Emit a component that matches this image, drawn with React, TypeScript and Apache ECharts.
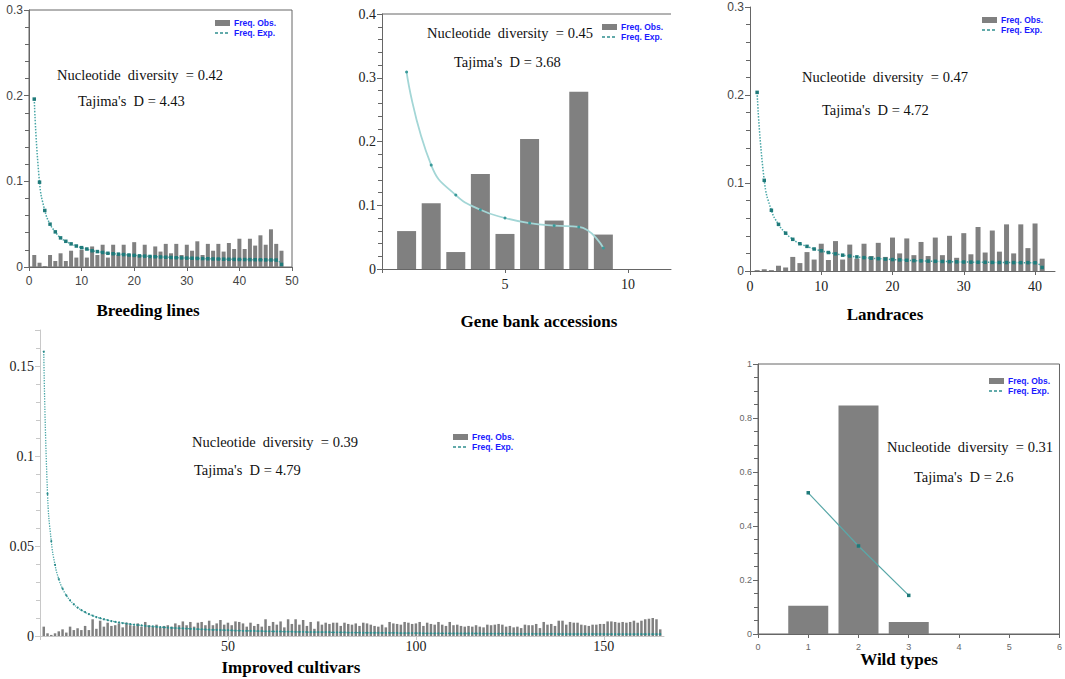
import React, { useEffect, useRef } from "react";
import * as echarts from "echarts";

// ---------- data ----------
const breedingObs = [0.014, 0.005, 0.001, 0.014, 0.007, 0.016, 0.007, 0.019, 0.011, 0.020, 0.011, 0.024, 0.014, 0.026, 0.011, 0.026, 0.014, 0.026, 0.015, 0.029, 0.014, 0.026, 0.011, 0.024, 0.018, 0.027, 0.016, 0.027, 0.014, 0.026, 0.019, 0.030, 0.014, 0.027, 0.019, 0.027, 0.018, 0.028, 0.021, 0.033, 0.021, 0.033, 0.025, 0.037, 0.026, 0.044, 0.027, 0.019];
const breedingExp = [0.196, 0.099, 0.066, 0.050, 0.041, 0.034, 0.030, 0.027, 0.0245, 0.0226, 0.021, 0.019, 0.018, 0.017, 0.016, 0.0155, 0.015, 0.0145, 0.014, 0.0136, 0.013, 0.0127, 0.0123, 0.012, 0.0117, 0.0114, 0.0111, 0.0108, 0.0106, 0.0104, 0.0102, 0.010, 0.0098, 0.0096, 0.0094, 0.0093, 0.0091, 0.009, 0.0089, 0.0088, 0.0087, 0.0086, 0.0085, 0.0084, 0.0083, 0.0082, 0.0081, 0.003];

const geneObs = [0.0595, 0.103, 0.0266, 0.149, 0.055, 0.204, 0.076, 0.278, 0.054];
const geneExp = [0.309, 0.163, 0.116, 0.093, 0.080, 0.072, 0.068, 0.066, 0.033];

const landObs = [0.001, 0.002, 0.001, 0.006, 0.004, 0.016, 0.009, 0.0215, 0.013, 0.031, 0.0125, 0.034, 0.013, 0.030, 0.014, 0.031, 0.017, 0.032, 0.016, 0.038, 0.020, 0.037, 0.018, 0.033, 0.017, 0.038, 0.018, 0.040, 0.015, 0.043, 0.019, 0.050, 0.021, 0.046, 0.022, 0.053, 0.020, 0.053, 0.026, 0.054, 0.014];
const landExp = [0.203, 0.103, 0.069, 0.053, 0.043, 0.036, 0.031, 0.028, 0.025, 0.023, 0.021, 0.0195, 0.018, 0.017, 0.016, 0.0152, 0.0145, 0.014, 0.0135, 0.013, 0.0126, 0.0122, 0.0118, 0.0115, 0.0112, 0.011, 0.0108, 0.0106, 0.0104, 0.0102, 0.0101, 0.010, 0.0099, 0.0098, 0.0097, 0.0096, 0.0096, 0.0095, 0.0095, 0.0094, 0.004];

const improvedObs = [
  0.0052, 0.0015, 0.0006, 0.0015, 0.0026, 0.0037, 0.0019, 0.0052, 0.0033, 0.0043,
  0.0033, 0.0056, 0.0033, 0.0093, 0.004, 0.0085, 0.0052, 0.0074, 0.0056, 0.006,
  0.007, 0.0048, 0.0074, 0.006, 0.0056, 0.007, 0.0052, 0.0078, 0.006, 0.0052,
  0.0063, 0.0048, 0.0056, 0.006, 0.0052, 0.007, 0.006, 0.0081, 0.006, 0.0078,
  0.0052, 0.0074, 0.0078, 0.006, 0.0085, 0.006, 0.007, 0.0089, 0.0063, 0.0074,
  0.006, 0.0081, 0.0078, 0.007, 0.0052, 0.0074, 0.0056, 0.0067, 0.0052, 0.0093,
  0.0056, 0.0078, 0.0063, 0.0081, 0.0048, 0.0093, 0.0067, 0.0093, 0.0063, 0.0089,
  0.0056, 0.0078, 0.004, 0.0081, 0.0063, 0.0074, 0.0067, 0.0074, 0.0074, 0.0056,
  0.0074, 0.0067, 0.0063, 0.007, 0.0056, 0.0074, 0.007, 0.0063, 0.0056, 0.0052,
  0.0063, 0.0048, 0.0078, 0.007, 0.0067, 0.0063, 0.0078, 0.0074, 0.0067, 0.007,
  0.0078, 0.0056, 0.0074, 0.0067, 0.0063, 0.0078, 0.0063, 0.0056, 0.0078, 0.006,
  0.0063, 0.0056, 0.0052, 0.0056, 0.0052, 0.006, 0.0052, 0.0048, 0.0063, 0.006,
  0.0063, 0.0067, 0.0063, 0.0052, 0.0056, 0.0048, 0.0052, 0.0044, 0.0063, 0.006,
  0.006, 0.0067, 0.0044, 0.0078, 0.0063, 0.0067, 0.0056, 0.0085, 0.0085, 0.0063,
  0.0078, 0.0074, 0.0074, 0.0063, 0.006, 0.0056, 0.0063, 0.0063, 0.0067, 0.0067,
  0.0081, 0.0081, 0.0078, 0.0074, 0.0078, 0.0074, 0.0078, 0.0085, 0.0074, 0.0085,
  0.0093, 0.0096, 0.010, 0.0093, 0.0037,
];
const improvedExp = [
  0.158, 0.079, 0.0527, 0.0395, 0.0316, 0.0263, 0.0226, 0.0198, 0.0176, 0.0158,
  0.0144, 0.0132, 0.0122, 0.0113, 0.0105, 0.0099, 0.0093, 0.0088, 0.0083, 0.0079,
  0.0075, 0.0072, 0.0069, 0.0066, 0.0063, 0.0061, 0.0059, 0.0056, 0.0054, 0.0053,
  0.0051, 0.0049, 0.0048, 0.0046, 0.0045, 0.0044, 0.0043, 0.0042, 0.0041, 0.004,
  0.0039, 0.0038, 0.0037, 0.0036, 0.0035, 0.0034, 0.0034, 0.0033, 0.0032, 0.0032,
  0.0031, 0.003, 0.003, 0.0029, 0.0029, 0.0028, 0.0028, 0.0027, 0.0027, 0.0026,
  0.0026, 0.0025, 0.0025, 0.0025, 0.0024, 0.0024, 0.0024, 0.0023, 0.0023, 0.0023,
  0.0022, 0.0022, 0.0022, 0.0021, 0.0021, 0.0021, 0.0021, 0.002, 0.002, 0.002,
  0.002, 0.0019, 0.0019, 0.0019, 0.0019, 0.0018, 0.0018, 0.0018, 0.0018, 0.0018,
  0.0017, 0.0017, 0.0017, 0.0017, 0.0017, 0.0016, 0.0016, 0.0016, 0.0016, 0.0016,
  0.0016, 0.0015, 0.0015, 0.0015, 0.0015, 0.0015, 0.0015, 0.0015, 0.0014, 0.0014,
  0.0014, 0.0014, 0.0014, 0.0014, 0.0014, 0.0014, 0.0014, 0.0013, 0.0013, 0.0013,
  0.0013, 0.0013, 0.0013, 0.0013, 0.0013, 0.0013, 0.0012, 0.0012, 0.0012, 0.0012,
  0.0012, 0.0012, 0.0012, 0.0012, 0.0012, 0.0012, 0.0012, 0.0011, 0.0011, 0.0011,
  0.0011, 0.0011, 0.0011, 0.0011, 0.0011, 0.0011, 0.0011, 0.0011, 0.0011, 0.0011,
  0.001, 0.001, 0.001, 0.001, 0.001, 0.001, 0.001, 0.001, 0.001, 0.001,
  0.001, 0.001, 0.001, 0.001, 0.001,
];

const wildObs = [0.105, 0.846, 0.044];
const wildExp = [0.523, 0.326, 0.143];

const panelTitles = ["Breeding lines", "Gene bank accessions", "Landraces", "Improved cultivars", "Wild types"];
const diversity = ["0.42", "0.45", "0.47", "0.39", "0.31"];
const tajimaD = ["4.43", "3.68", "4.72", "4.79", "2.6"];
const legendNames = ["Freq. Obs.", "Freq. Exp."];

// ---------- styling helpers ----------
const SERIF = "'Liberation Serif', 'Times New Roman', serif";
const SANS = "'Liberation Sans', Arial, sans-serif";
const BAR = "#808080";
const NB = "\u00a0";

const toXY = (arr: number[]) => arr.map((v, i) => [i + 1, v]);

function xAxis(gi: number, min: number, max: number, interval: number, lbl: any, line: any, showMax: boolean, hideZero = false, margin = 8) {
  return {
    type: "value", gridIndex: gi, min, max, interval,
    axisLine: { show: true, onZero: false, lineStyle: line },
    axisTick: { show: true, length: 4, lineStyle: line },
    splitLine: { show: false },
    axisLabel: { ...lbl, margin, showMaxLabel: showMax, formatter: (v: number) => (hideZero && v === 0 ? "" : String(v)) },
  };
}
function yAxis(gi: number, max: number, interval: number, lbl: any, line: any, minorSplit: number, showMax: boolean) {
  return {
    type: "value", gridIndex: gi, min: 0, max, interval,
    axisLine: { show: true, onZero: false, lineStyle: line },
    axisTick: { show: true, length: 5, lineStyle: line },
    minorTick: { show: true, splitNumber: minorSplit, length: 4, lineStyle: line },
    splitLine: { show: false },
    axisLabel: { ...lbl, margin: 6, showMaxLabel: showMax, formatter: (v: number) => String(parseFloat(v.toFixed(3))) },
  };
}

function legend(x: number, y: number) {
  const txt = { font: `bold 8.5px ${SANS}`, fill: "#1a1aff", verticalAlign: "middle", textVerticalAlign: "middle" };
  return {
    type: "group",
    children: [
      { type: "rect", shape: { x, y: y - 3, width: 15, height: 6 }, style: { fill: BAR } },
      { type: "text", x: x + 19, y, style: { ...txt, text: legendNames[0] } },
      { type: "line", shape: { x1: x, y1: y + 10, x2: x + 15, y2: y + 10 }, style: { stroke: "#2f8f8f", lineWidth: 1.3, lineDash: [3, 2] } },
      { type: "text", x: x + 19, y: y + 10, style: { ...txt, text: legendNames[1] } },
    ],
  };
}

function annot(i: number, x1: number, y1: number, x2: number, y2: number) {
  const st = { font: `14.5px ${SERIF}`, fill: "#111", verticalAlign: "middle", textVerticalAlign: "middle" };
  return [
    { type: "text", x: x1, y: y1, style: { ...st, text: `Nucleotide${NB} diversity${NB} = ${diversity[i]}` } },
    { type: "text", x: x2, y: y2, style: { ...st, text: `Tajima's${NB} D = ${tajimaD[i]}` } },
  ];
}
function title(i: number, cx: number, cy: number) {
  return { type: "text", x: cx, y: cy, style: { text: panelTitles[i], font: `bold 17px ${SERIF}`, fill: "#000", textAlign: "center", align: "center", verticalAlign: "middle", textVerticalAlign: "middle" } };
}

const sansLbl = { fontFamily: SANS, fontSize: 12, color: "#444" };
const serifLbl = { fontFamily: SERIF, fontSize: 14, color: "#222" };
const smallLbl = { fontFamily: SANS, fontSize: 9, color: "#666" };
const darkLine = { color: "#666", width: 1 };
const lightLine = { color: "#c8c8c8", width: 1 };

const option: any = {
  animation: false,
  backgroundColor: "#fff",
  grid: [
    { left: 29, top: 10, width: 263, height: 257, show: true, borderColor: "#666", borderWidth: 1, backgroundColor: "transparent" },
    { left: 382, top: 14, width: 289, height: 255 },
    { left: 750, top: 7, width: 305, height: 264 },
    { left: 40, top: 330, width: 624, height: 306 },
    { left: 758, top: 364, width: 303, height: 270, show: true, borderColor: "#666", borderWidth: 1, backgroundColor: "transparent" },
  ],
  xAxis: [
    xAxis(0, 0, 50, 10, sansLbl, darkLine, true),
    xAxis(1, 0, 11.75, 5, serifLbl, darkLine, false, true),
    xAxis(2, 0, 42.8, 10, serifLbl, darkLine, false),
    xAxis(3, 0, 166, 50, serifLbl, lightLine, false, true, 3),
    xAxis(4, 0, 6, 1, smallLbl, darkLine, true),
  ],
  yAxis: [
    yAxis(0, 0.3, 0.1, sansLbl, darkLine, 5, true),
    yAxis(1, 0.4, 0.1, serifLbl, darkLine, 5, true),
    yAxis(2, 0.3, 0.1, sansLbl, darkLine, 5, true),
    yAxis(3, 0.17, 0.05, serifLbl, lightLine, 5, false),
    yAxis(4, 1, 0.2, smallLbl, darkLine, 4, true),
  ],
  series: [
    { type: "bar", xAxisIndex: 0, yAxisIndex: 0, barWidth: 4, data: toXY(breedingObs), itemStyle: { color: BAR } },
    { type: "line", xAxisIndex: 0, yAxisIndex: 0, data: toXY(breedingExp), smooth: true, symbol: "rect", symbolSize: 3.5,
      lineStyle: { color: "#48a6a6", width: 1.5, type: "dotted" }, itemStyle: { color: "#1f7a7a" } },

    { type: "bar", xAxisIndex: 1, yAxisIndex: 1, barWidth: 19, data: toXY(geneObs), itemStyle: { color: BAR } },
    { type: "line", xAxisIndex: 1, yAxisIndex: 1, data: toXY(geneExp), smooth: true, symbol: "circle", symbolSize: 3,
      lineStyle: { color: "#a3d6d6", width: 1.8 }, itemStyle: { color: "#3a9a9a" } },

    { type: "bar", xAxisIndex: 2, yAxisIndex: 2, barWidth: 5, data: toXY(landObs), itemStyle: { color: BAR } },
    { type: "line", xAxisIndex: 2, yAxisIndex: 2, data: toXY(landExp), smooth: true, symbol: "rect", symbolSize: 3.5,
      lineStyle: { color: "#48a6a6", width: 1.5, type: "dotted" }, itemStyle: { color: "#1f7a7a" } },

    { type: "bar", xAxisIndex: 3, yAxisIndex: 3, barWidth: 2.5, data: toXY(improvedObs), itemStyle: { color: BAR } },
    { type: "line", xAxisIndex: 3, yAxisIndex: 3, data: toXY(improvedExp), smooth: true, symbol: "circle", symbolSize: 2,
      lineStyle: { color: "#48a6a6", width: 1.3, type: "dotted" }, itemStyle: { color: "#2a8a8a" } },

    { type: "bar", xAxisIndex: 4, yAxisIndex: 4, barWidth: 40, data: toXY(wildObs), itemStyle: { color: BAR } },
    { type: "line", xAxisIndex: 4, yAxisIndex: 4, data: toXY(wildExp), symbol: "rect", symbolSize: 3.5,
      lineStyle: { color: "#5aa8a8", width: 1.2 }, itemStyle: { color: "#1f7a7a" } },
  ],
  graphic: [
    { type: "line", shape: { x1: 382, y1: 14, x2: 671, y2: 14 }, style: { stroke: "#666", lineWidth: 1 } },
    legend(215, 23),
    legend(602, 27),
    legend(982, 20),
    legend(453, 437),
    legend(989, 381),
    ...annot(0, 57, 75, 78, 101),
    ...annot(1, 427, 33, 454, 62),
    ...annot(2, 802, 77, 822, 110),
    ...annot(3, 192, 442, 194, 470),
    ...annot(4, 887, 447, 914, 477),
    title(0, 148, 310),
    title(1, 539, 321),
    title(2, 885, 314),
    title(3, 291, 667),
    title(4, 899, 659),
  ],
};

export default function App() {
  const ref = useRef<HTMLDivElement>(null);
  useEffect(() => {
    const chart = echarts.init(ref.current!, null, { renderer: "svg" });
    chart.setOption(option);
    return () => chart.dispose();
  }, []);
  return (
    <div
      ref={ref}
      style={{ position: "fixed", left: 0, top: 0, width: 1065, height: 679, background: "#fff" }}
    />
  );
}
